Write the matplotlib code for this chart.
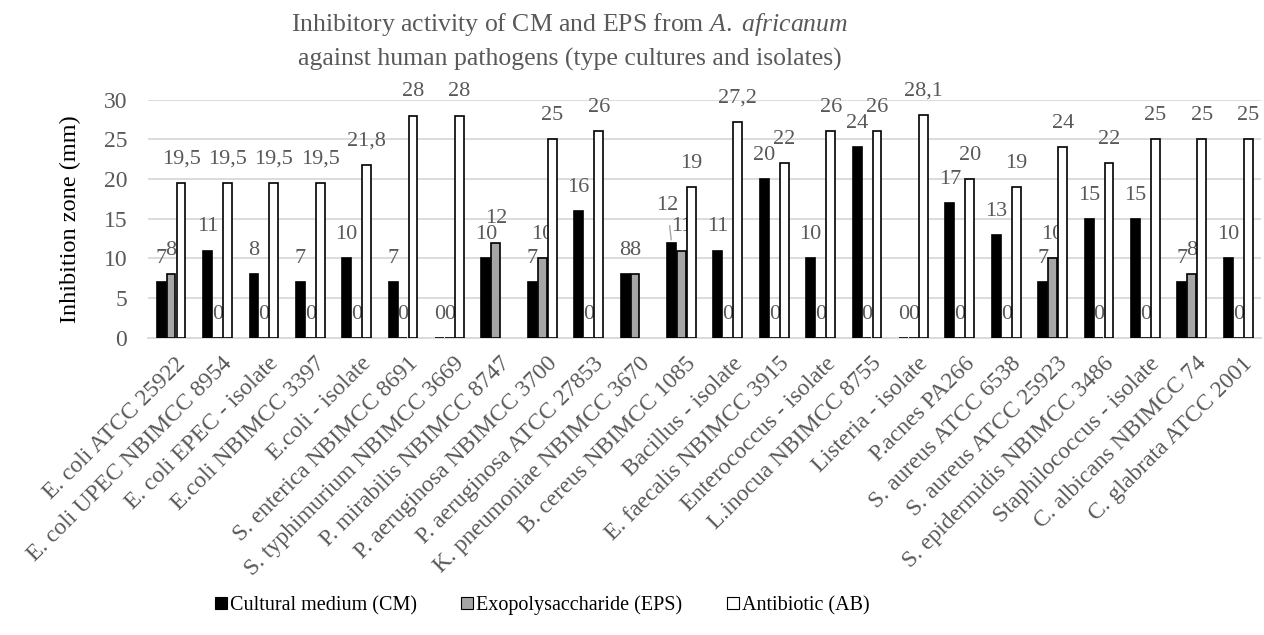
import numpy as np
import matplotlib
matplotlib.use("Agg")
import matplotlib.pyplot as plt
from matplotlib.patches import Patch
from matplotlib.transforms import ScaledTranslation

plt.rcParams['font.family'] = 'serif'
plt.rcParams['font.serif'] = ['Liberation Serif', 'DejaVu Serif']
plt.rcParams['mathtext.fontset'] = 'custom'
plt.rcParams['mathtext.rm'] = 'Liberation Serif'
plt.rcParams['mathtext.it'] = 'Liberation Serif:italic'

# data (nan = no bar)
strains = ["E. coli ATCC 25922", "E. coli UPEC NBIMCC 8954", "E. coli EPEC - isolate",
           "E.coli NBIMCC 3397", "E.coli - isolate", "S. enterica NBIMCC 8691",
           "S. typhimurium NBIMCC 3669", "P. mirabilis NBIMCC 8747", "P. aeruginosa NBIMCC 3700",
           "P. aeruginosa ATCC 27853", "K. pneumoniae NBIMCC 3670", "B. cereus NBIMCC 1085",
           "Bacillus - isolate", "E. faecalis NBIMCC 3915", "Enterococcus - isolate",
           "L.inocua NBIMCC 8755", "Listeria - isolate", "P.acnes PA266",
           "S. aureus ATCC 6538", "S. aureus ATCC 25923", "S. epidermidis NBIMCC 3486",
           "Staphilococcus - isolate", "C. albicans NBIMCC 74", "C. glabrata ATCC 2001"]
cm = [7, 11, 8, 7, 10, 7, 0, 10, 7, 16, 8, 12, 11, 20, 10, 24, 0, 17, 13, 7, 15, 15, 7, 10]
eps = [8, 0, 0, 0, 0, 0, 0, 12, 10, 0, 8, 11, 0, 0, 0, 0, 0, 0, 0, 10, 0, 0, 8, 0]
ab = [19.5, 19.5, 19.5, 19.5, 21.8, 28, 28, np.nan, 25, 26, np.nan, 19, 27.2, 22, 26, 26,
      28.1, 20, 19, 24, 22, 25, 25, 25]

series = [("Cultural medium (CM)", cm, "black"),
          ("Exopolysaccharide (EPS)", eps, "#a6a6a6"),
          ("Antibiotic (AB)", ab, "white")]

grey_txt = "#595959"
serif = "Liberation Serif"
# labels moved by hand in the original (series index, category index) -> offset in points
moved = {(0, 11): (-3, 27)}

fig = plt.figure(figsize=(12.64, 6.35), dpi=100)
ax = fig.add_axes([0.117, 0.468, 0.881, 0.375])

x = np.arange(len(strains))
w = 0.19
step = 0.215

for i, (name, vals, col) in enumerate(series):
    vals = np.array(vals, dtype=float)
    pos = x + (i - 1) * step
    ax.bar(pos, vals, width=w, color=col, edgecolor="black", linewidth=1.2, zorder=3)
    for j, (px, v) in enumerate(zip(pos, vals)):
        if np.isnan(v):
            continue
        off = moved.get((i, j), (0, 17))
        arrow = None
        if (i, j) in moved:
            arrow = dict(arrowstyle="-", color="#a6a6a6", lw=1, shrinkA=6, shrinkB=2)
        ax.annotate(f"{v:g}".replace(".", ","), (px, v), xytext=off,
                    textcoords="offset points", ha="center", va="center",
                    fontsize=16, color=grey_txt, family=serif, arrowprops=arrow)

ax.set_xlim(-0.5, len(strains) - 0.5)
ax.set_ylim(0, 30)
ax.set_yticks(range(0, 31, 5))
ax.set_yticklabels([str(t) for t in range(0, 31, 5)], family=serif)
ax.yaxis.grid(True, color="#d9d9d9", linewidth=1.3, zorder=0)
ax.set_axisbelow(True)
for s in ["top", "right", "left"]:
    ax.spines[s].set_visible(False)
ax.spines["bottom"].set_color("#d9d9d9")
ax.spines["bottom"].set_linewidth(1.3)
ax.tick_params(axis="both", length=0, labelsize=17, labelcolor=grey_txt)
ax.tick_params(axis="y", pad=15)

ax.set_xticks(x)
ax.set_xticklabels(strains, rotation=45, ha="right", va="top", rotation_mode="anchor",
                   family=serif)
ax.tick_params(axis="x", pad=11)
shift = ScaledTranslation(4 / 100, 0, fig.dpi_scale_trans)
for lbl in ax.get_xticklabels():
    lbl.set_transform(lbl.get_transform() + shift)

ax.set_ylabel("Inhibition zone (mm)", fontsize=17.5, color="black", family=serif)
ax.yaxis.set_label_coords(-0.060, 0.5)

fig.text(0.451, 0.962, r"Inhibitory activity of CM and EPS from $\mathit{A.\ africanum}$",
         ha="center", va="center", fontsize=18.5, color=grey_txt, family=serif)
fig.text(0.451, 0.906, "against human pathogens (type cultures and isolates)",
         ha="center", va="center", fontsize=18.5, color=grey_txt, family=serif)

handles = [Patch(facecolor=c, edgecolor="black", linewidth=0.8, label=n) for n, _, c in series]
fig.legend(handles=handles, loc="center", bbox_to_anchor=(0.429, 0.047), ncol=3,
           frameon=False, handlelength=0.6, handleheight=0.6,
           handletextpad=0.15, columnspacing=2.2,
           prop={"family": serif, "size": 14.5})

plt.savefig("out.png", dpi=100)
